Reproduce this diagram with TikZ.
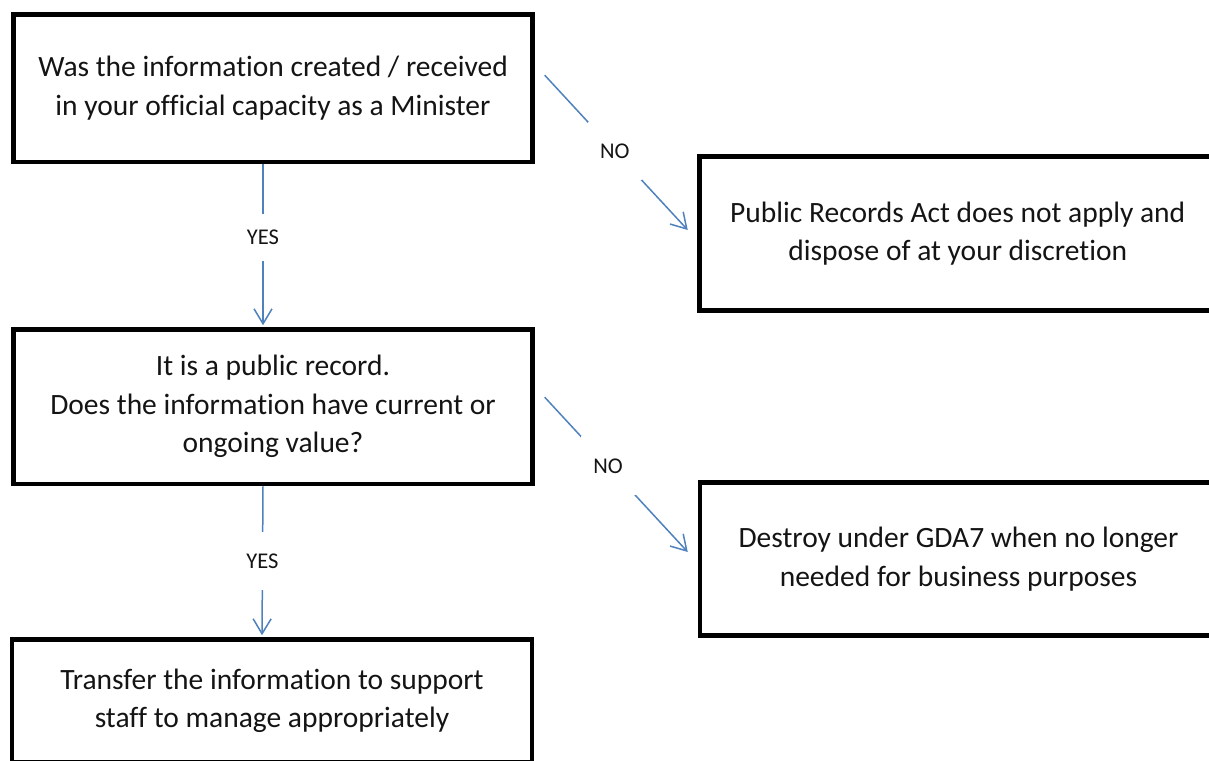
\documentclass[tikz,border=0pt]{standalone}
\usepackage{fontspec}
\setmainfont{Carlito}[Ligatures=NoCommon]
\usetikzlibrary{arrows.meta}
\definecolor{flowblue}{HTML}{4F81BD}
\definecolor{ink}{HTML}{141414}
\begin{document}
\begin{tikzpicture}[x=1pt,y=-1pt,
  box/.style={draw=black, line width=4.5pt, rectangle, align=center, text=ink,
    font=\fontsize{29.5}{38.5}\selectfont, inner sep=0pt},
  flow/.style={draw=flowblue, line width=1.5pt,
    -{Straight Barb[length=15pt,width=18pt,line width=1.5pt]}},
  answer/.style={fill=white, text=ink, inner sep=0pt,
    font=\fontsize{22.5}{26}\selectfont}]
\useasboundingbox (0,0) rectangle (1209,760);
\clip (0,0) rectangle (1209,760);

% decision and outcome boxes
\node[box, minimum width=519, minimum height=147.5] (q1) at (273,88.25)
  {Was the information created / received\\in your official capacity as a Minister};
\node[box, minimum width=516.5, minimum height=154] (out1) at (957.75,233.5)
  {Public Records Act does not apply and\\dispose of at your discretion};
\node[box, minimum width=519, minimum height=154.5] (q2) at (273,406.75)
  {It is a public record.\\Does the information have current or\\ongoing value?};
\node[box, minimum width=517, minimum height=153] (out2) at (958.5,559)
  {Destroy under GDA7 when no longer\\needed for business purposes};
\node[box, minimum width=520, minimum height=123] (out3) at (272,701)
  {Transfer the information to support\\staff to manage appropriately};

% connectors
\draw[flow, shorten >=2pt] ([xshift=-10pt]q1.south) --
  node[answer, pos=0.448, minimum width=40, minimum height=47] {YES}
  ([xshift=-10pt]q2.north);
\draw[flow, shorten >=2pt] ([xshift=-10pt]q2.south) --
  node[answer, pos=0.495, minimum width=40, minimum height=58] {YES}
  ([xshift=-10pt]out3.north);
\draw[flow] ([xshift=10pt,yshift=13pt]q1.east) --
  node[answer, pos=0.49, minimum width=54, minimum height=58] {NO}
  ([xshift=-9.5pt,yshift=3.5pt]out1.west);
\draw[flow] ([xshift=10pt,yshift=9.5pt]q2.east) --
  node[answer, pos=0.443, minimum width=55, minimum height=59] {NO}
  ([xshift=-10pt,yshift=7pt]out2.west);
\end{tikzpicture}
\end{document}
